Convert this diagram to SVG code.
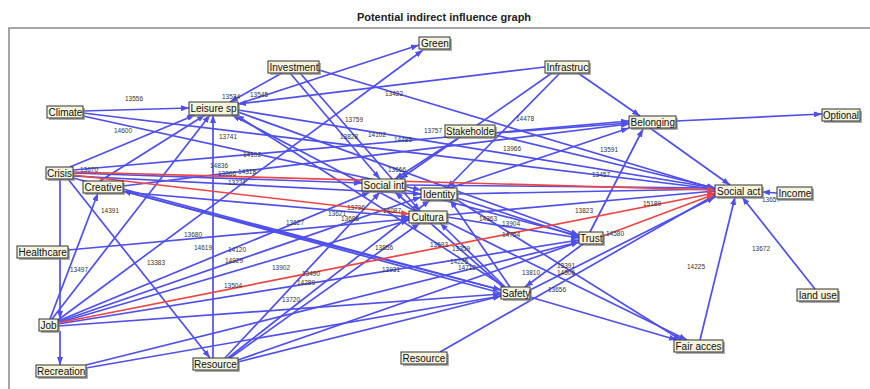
<svg xmlns="http://www.w3.org/2000/svg" width="870" height="389" viewBox="0 0 870 389">
<defs>
<marker id="ab" markerUnits="userSpaceOnUse" markerWidth="8" markerHeight="6" refX="8" refY="3" orient="auto"><path d="M0,0 L8,3 L0,6 z" fill="#4f4fea"/></marker>
<marker id="ar" markerUnits="userSpaceOnUse" markerWidth="8" markerHeight="6" refX="8" refY="3" orient="auto"><path d="M0,0 L8,3 L0,6 z" fill="#ee4444"/></marker>
</defs>
<style>
.e{fill:none;stroke:#4f4fea;stroke-width:1.7;marker-end:url(#ab)}
.r{fill:none;stroke:#ee4444;stroke-width:1.7;marker-end:url(#ar)}
.lb{font-family:"Liberation Sans",Arial,sans-serif;font-size:6.5px;fill:#333}
.sh{fill:#8a8a8a;opacity:0.7}
.bx{fill:#f6f4dc;stroke:#333;stroke-width:1}
.nt{font-family:"Liberation Sans",Arial,sans-serif;font-size:10px;fill:#111}
.tt{font-family:"Liberation Sans",Arial,sans-serif;font-size:11px;font-weight:bold;fill:#222}
</style>
<rect x="0" y="0" width="870" height="389" fill="#ffffff"/>
<text class="tt" x="444" y="21" text-anchor="middle">Potential indirect influence graph</text>
<path d="M9,389 L9,28 L870,28" fill="none" stroke="#888" stroke-width="1.5"/>
<g id="connectors">
<path class="e" d="M83,111 L189,108"/>
<path class="e" d="M83,113 L715,189"/>
<path class="e" d="M83,116 L421,190"/>
<path class="e" d="M282,73 L230,102"/>
<path class="e" d="M545,67 L238,104"/>
<path class="e" d="M238,104 L419,45"/>
<path class="e" d="M58,320 L423,50"/>
<path class="e" d="M290,73 L380,179"/>
<path class="e" d="M300,73 L420,211"/>
<path class="e" d="M319,70 L715,189"/>
<path class="e" d="M578,73 L640,116"/>
<path class="e" d="M552,73 L400,179"/>
<path class="e" d="M560,73 L447,188"/>
<path class="e" d="M676,121 L822,114"/>
<path class="e" d="M650,128 L730,185"/>
<path class="e" d="M590,232 L643,129"/>
<path class="e" d="M73,170 L629,121"/>
<path class="e" d="M123,186 L629,124"/>
<path class="e" d="M495,133 L629,123"/>
<path class="e" d="M450,188 L629,128"/>
<path class="e" d="M495,135 L715,188"/>
<path class="e" d="M238,110 L715,188"/>
<path class="e" d="M70,167 L195,115"/>
<path class="e" d="M100,181 L205,115"/>
<path class="e" d="M213,358 L213,115"/>
<path class="e" d="M52,319 L210,115"/>
<path class="e" d="M415,211 L232,115"/>
<path class="e" d="M505,287 L236,115"/>
<path class="e" d="M73,173 L362,183"/>
<path class="e" d="M73,176 L421,194"/>
<path class="e" d="M60,179 L60,319"/>
<path class="e" d="M60,331 L60,365"/>
<path class="e" d="M68,179 L210,358"/>
<path class="e" d="M73,178 L501,290"/>
<path class="e" d="M123,189 L501,290"/>
<path class="e" d="M501,293 L123,191"/>
<path class="e" d="M123,192 L409,217"/>
<path class="e" d="M50,319 L98,193"/>
<path class="e" d="M68,250 L409,219"/>
<path class="e" d="M58,321 L370,192"/>
<path class="e" d="M58,322 L421,197"/>
<path class="e" d="M58,323 L409,220"/>
<path class="e" d="M58,324 L579,240"/>
<path class="e" d="M58,326 L501,294"/>
<path class="e" d="M86,365 L579,242"/>
<path class="e" d="M86,368 L501,296"/>
<path class="e" d="M225,358 L380,192"/>
<path class="e" d="M228,358 L430,200"/>
<path class="e" d="M230,358 L420,223"/>
<path class="e" d="M238,360 L579,242"/>
<path class="e" d="M238,362 L501,296"/>
<path class="e" d="M440,352 L715,195"/>
<path class="e" d="M530,297 L677,340"/>
<path class="e" d="M447,222 L687,340"/>
<path class="e" d="M457,200 L681,340"/>
<path class="e" d="M700,340 L735,197"/>
<path class="e" d="M815,289 L742,197"/>
<path class="e" d="M777,193 L762,192"/>
<path class="e" d="M447,215 L715,191"/>
<path class="e" d="M457,194 L715,189"/>
<path class="e" d="M405,185 L715,188"/>
<path class="e" d="M405,190 L579,236"/>
<path class="e" d="M447,217 L579,238"/>
<path class="e" d="M457,198 L579,237"/>
<path class="e" d="M583,244 L525,287"/>
<path class="e" d="M505,287 L440,223"/>
<path class="e" d="M510,287 L450,200"/>
<path class="e" d="M503,287 L395,192"/>
<path class="e" d="M530,290 L715,197"/>
<path class="e" d="M460,137 L395,179"/>
<path class="e" d="M238,112 L579,235"/>
<path class="r" d="M73,172 L715,190"/>
<path class="r" d="M73,175 L409,214"/>
<path class="r" d="M58,323 L715,193"/>
<path class="r" d="M603,236 L715,194"/>
<g id="edge-labels">
<text class="lb" x="125" y="101">13556</text>
<text class="lb" x="114" y="133">14600</text>
<text class="lb" x="222" y="99">13534</text>
<text class="lb" x="250" y="97">13545</text>
<text class="lb" x="219" y="139">13741</text>
<text class="lb" x="243" y="157">14102</text>
<text class="lb" x="80" y="172">13670</text>
<text class="lb" x="210" y="168">14836</text>
<text class="lb" x="218" y="176">13866</text>
<text class="lb" x="238" y="174">14318</text>
<text class="lb" x="228" y="185">13221</text>
<text class="lb" x="385" y="96">13422</text>
<text class="lb" x="345" y="122">13759</text>
<text class="lb" x="340" y="139">13828</text>
<text class="lb" x="368" y="137">14102</text>
<text class="lb" x="394" y="142">14485</text>
<text class="lb" x="424" y="133">13757</text>
<text class="lb" x="388" y="172">13666</text>
<text class="lb" x="516" y="121">14478</text>
<text class="lb" x="503" y="151">13966</text>
<text class="lb" x="600" y="152">13591</text>
<text class="lb" x="592" y="177">13457</text>
<text class="lb" x="643" y="206">15189</text>
<text class="lb" x="575" y="213">13823</text>
<text class="lb" x="606" y="236">14580</text>
<text class="lb" x="762" y="202">13657</text>
<text class="lb" x="687" y="269">14225</text>
<text class="lb" x="752" y="251">13672</text>
<text class="lb" x="479" y="221">14363</text>
<text class="lb" x="502" y="226">13904</text>
<text class="lb" x="502" y="237">14754</text>
<text class="lb" x="522" y="275">13810</text>
<text class="lb" x="557" y="268">13391</text>
<text class="lb" x="557" y="275">14506</text>
<text class="lb" x="548" y="292">13656</text>
<text class="lb" x="430" y="247">13693</text>
<text class="lb" x="452" y="251">13359</text>
<text class="lb" x="450" y="264">14225</text>
<text class="lb" x="458" y="270">14712</text>
<text class="lb" x="375" y="250">13856</text>
<text class="lb" x="382" y="272">13931</text>
<text class="lb" x="286" y="225">13627</text>
<text class="lb" x="328" y="216">13621</text>
<text class="lb" x="347" y="210">13796</text>
<text class="lb" x="341" y="221">13686</text>
<text class="lb" x="383" y="213">14087</text>
<text class="lb" x="184" y="237">13680</text>
<text class="lb" x="194" y="250">14619</text>
<text class="lb" x="228" y="252">14120</text>
<text class="lb" x="225" y="263">14929</text>
<text class="lb" x="272" y="270">13902</text>
<text class="lb" x="302" y="276">13490</text>
<text class="lb" x="297" y="285">14289</text>
<text class="lb" x="224" y="288">13504</text>
<text class="lb" x="282" y="302">13720</text>
<text class="lb" x="147" y="265">13383</text>
<text class="lb" x="70" y="272">13497</text>
<text class="lb" x="101" y="213">14391</text>
</g>
</g>
<g id="n-climate"><rect class="sh" x="49" y="108" width="36" height="12"/><rect class="bx" x="47" y="106" width="36" height="12"/><text class="nt" x="48.5" y="115.5">Climate</text></g>
<g id="n-leisure"><rect class="sh" x="191" y="104" width="49" height="13"/><rect class="bx" x="189" y="102" width="49" height="13"/><text class="nt" x="190.5" y="112">Leisure sp</text></g>
<g id="n-investment"><rect class="sh" x="270" y="63" width="51" height="12"/><rect class="bx" x="268" y="61" width="51" height="12"/><text class="nt" x="269.5" y="70.5">Investment</text></g>
<g id="n-green"><rect class="sh" x="421" y="39" width="31" height="12"/><rect class="bx" x="419" y="37" width="31" height="12"/><text class="nt" x="421" y="46.5">Green</text></g>
<g id="n-infrastruc"><rect class="sh" x="547" y="63" width="44" height="12"/><rect class="bx" x="545" y="61" width="44" height="12"/><text class="nt" x="546.5" y="70.5">Infrastruc</text></g>
<g id="n-belonging"><rect class="sh" x="631" y="118" width="47" height="12"/><rect class="bx" x="629" y="116" width="47" height="12"/><text class="nt" x="630.5" y="125.5">Belonging</text></g>
<g id="n-optional"><rect class="sh" x="824" y="111" width="38" height="12"/><rect class="bx" x="822" y="109" width="38" height="12"/><text class="nt" x="823" y="118.5" textLength="36" lengthAdjust="spacingAndGlyphs">Optional</text></g>
<g id="n-stakeholde"><rect class="sh" x="447" y="127" width="50" height="12"/><rect class="bx" x="445" y="125" width="50" height="12"/><text class="nt" x="446" y="134.5" textLength="48" lengthAdjust="spacingAndGlyphs">Stakeholde</text></g>
<g id="n-socialint"><rect class="sh" x="364" y="181" width="43" height="12"/><rect class="bx" x="362" y="179" width="43" height="12"/><text class="nt" x="363.5" y="188.5">Social int</text></g>
<g id="n-identity"><rect class="sh" x="423" y="190" width="36" height="12"/><rect class="bx" x="421" y="188" width="36" height="12"/><text class="nt" x="423" y="197.5">Identity</text></g>
<g id="n-cultura"><rect class="sh" x="411" y="213" width="38" height="12"/><rect class="bx" x="409" y="211" width="38" height="12"/><text class="nt" x="411.5" y="220.5">Cultura</text></g>
<g id="n-socialact"><rect class="sh" x="717" y="187" width="47" height="12"/><rect class="bx" x="715" y="185" width="47" height="12"/><text class="nt" x="717" y="194.5">Social act</text></g>
<g id="n-income"><rect class="sh" x="779" y="189" width="35" height="12"/><rect class="bx" x="777" y="187" width="35" height="12"/><text class="nt" x="778.5" y="196.5">Income</text></g>
<g id="n-crisis"><rect class="sh" x="48" y="169" width="27" height="12"/><rect class="bx" x="46" y="167" width="27" height="12"/><text class="nt" x="47" y="176.5">Crisis</text></g>
<g id="n-creative"><rect class="sh" x="85" y="183" width="40" height="12"/><rect class="bx" x="83" y="181" width="40" height="12"/><text class="nt" x="84.5" y="190.5">Creative</text></g>
<g id="n-healthcare"><rect class="sh" x="19" y="248" width="51" height="12"/><rect class="bx" x="17" y="246" width="51" height="12"/><text class="nt" x="18.5" y="255.5">Healthcare</text></g>
<g id="n-job"><rect class="sh" x="41" y="321" width="19" height="12"/><rect class="bx" x="39" y="319" width="19" height="12"/><text class="nt" x="40.5" y="328.5">Job</text></g>
<g id="n-recreation"><rect class="sh" x="38" y="367" width="50" height="12"/><rect class="bx" x="36" y="365" width="50" height="12"/><text class="nt" x="37" y="374.5">Recreation</text></g>
<g id="n-resource1"><rect class="sh" x="195" y="360" width="45" height="12"/><rect class="bx" x="193" y="358" width="45" height="12"/><text class="nt" x="194" y="367.5">Resource</text></g>
<g id="n-resource2"><rect class="sh" x="403" y="354" width="46" height="12"/><rect class="bx" x="401" y="352" width="46" height="12"/><text class="nt" x="402.5" y="361.5">Resource</text></g>
<g id="n-safety"><rect class="sh" x="503" y="289" width="29" height="12"/><rect class="bx" x="501" y="287" width="29" height="12"/><text class="nt" x="502" y="296.5">Safety</text></g>
<g id="n-trust"><rect class="sh" x="581" y="234" width="24" height="12"/><rect class="bx" x="579" y="232" width="24" height="12"/><text class="nt" x="580" y="241.5">Trust</text></g>
<g id="n-fairacces"><rect class="sh" x="676" y="342" width="49" height="12"/><rect class="bx" x="674" y="340" width="49" height="12"/><text class="nt" x="675.5" y="349.5">Fair acces</text></g>
<g id="n-landuse"><rect class="sh" x="799" y="291" width="41" height="12"/><rect class="bx" x="797" y="289" width="41" height="12"/><text class="nt" x="799" y="298.5">land use</text></g>
</svg>
